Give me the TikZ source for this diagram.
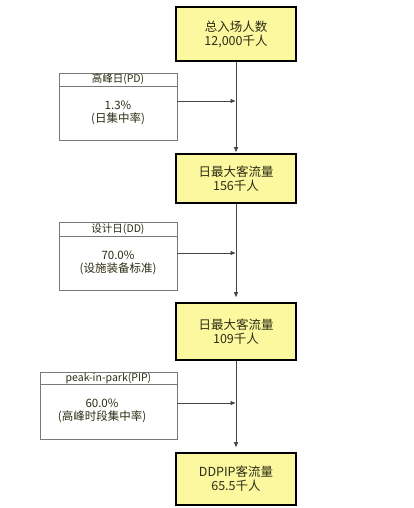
\documentclass[tikz,border=0pt]{standalone}
\usepackage{fontspec}
\newfontfamily\cjk{Noto Sans CJK SC}
\usetikzlibrary{arrows.meta}
\definecolor{boxfill}{RGB}{252,248,160}
\definecolor{txt}{RGB}{45,45,20}
\definecolor{conn}{RGB}{70,70,70}
\definecolor{sideline}{RGB}{120,120,120}
\begin{document}
\begin{tikzpicture}[x=1pt,y=-1pt,
  mainbox/.style={draw=black,line width=1.6pt,fill=boxfill,minimum width=120pt,inner sep=0pt,align=center,text=txt,font=\cjk\fontsize{12.5}{14}\selectfont},
  sidebox/.style={draw=sideline,line width=0.8pt,fill=white,minimum width=118pt,inner sep=0pt},
  sidehead/.style={draw=sideline,line width=0.8pt,inner sep=0pt,text=txt,font=\cjk\fontsize{10.5}{12}\selectfont},
  sidetext/.style={align=center,inner sep=0pt,text=txt,font=\cjk\fontsize{11.5}{13}\selectfont},
  conn/.style={draw=conn,line width=0.9pt},
  tip/.style={-{Triangle[length=5pt,width=4pt]}}]
\useasboundingbox[fill=white] (0,0) rectangle (414,508);

% main boxes
\node[mainbox,minimum height=54pt] (b1) at (236,34) {总入场人数\\12,000千人};
\node[mainbox,minimum height=49pt] (b2) at (236,178.5) {日最大客流量\\156千人};
\node[mainbox,minimum height=57pt] (b3) at (236,331.5) {日最大客流量\\109千人};
\node[mainbox,minimum height=52pt] (b4) at (236,479) {DDPIP客流量\\65.5千人};

% side boxes
\node[sidebox,minimum height=67pt] (s1) at (118,106.5) {};
\node[sidehead,minimum width=118pt,minimum height=13pt,anchor=north] (s1h) at (s1.north) {高峰日(PD)};
\node[sidetext] (s1t) at (118,113) {1.3\%\\(日集中率)};

\node[sidebox,minimum height=68pt] (s2) at (118,256) {};
\node[sidehead,minimum width=118pt,minimum height=14pt,anchor=north] (s2h) at (s2.north) {设计日(DD)};
\node[sidetext] (s2t) at (118,263) {70.0\%\\(设施装备标准)};

\node[sidebox,minimum width=137pt,minimum height=67pt] (s3) at (108.5,405.5) {};
\node[sidehead,minimum width=137pt,minimum height=12pt,anchor=north] (s3h) at (s3.north) {peak-in-park(PIP)};
\node[sidetext] (s3t) at (102,411) {60.0\%\\(高峰时段集中率)};

% vertical connectors
\draw[conn,tip,shorten >=1pt] (b1.south) -- (b2.north);
\draw[conn,tip,shorten >=5pt] (b2.south) -- (b3.north);
\draw[conn,tip,shorten >=5pt] (b3.south) -- (b4.north);

% horizontal connectors
\coordinate (h1) at ([yshift=5.5pt]s1.east);
\coordinate (h2) at ([yshift=3pt]s2.east);
\coordinate (h3) at ([yshift=2.5pt]s3.east);
\draw[conn,tip,shorten >=0.5pt] (h1) -- (h1 -| b1.south);
\draw[conn,tip,shorten >=0.5pt] (h2) -- (h2 -| b2.south);
\draw[conn,tip,shorten >=0.5pt] (h3) -- (h3 -| b3.south);
\end{tikzpicture}
\end{document}
